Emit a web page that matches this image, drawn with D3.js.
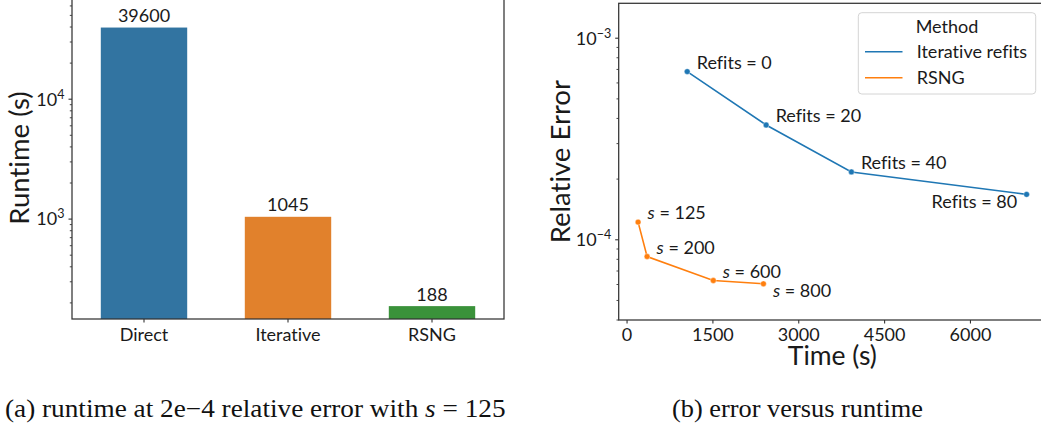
<!DOCTYPE html>
<html>
<head>
<meta charset="utf-8">
<script src="https://cdn.jsdelivr.net/npm/d3@7"></script>
<style>
  html, body { margin: 0; padding: 0; background: #fff; }
  svg { display: block; }
  text { font-family: Lato, "Open Sans", sans-serif; fill: #1a1a1a; font-variant-ligatures: none; }
  text.caption { font-family: "Liberation Serif", "Times New Roman", serif; fill: #111; }
</style>
</head>
<body>
<svg id="fig" width="1041" height="425"></svg>
<script>
// ---- (a) runtime per method ----
const methods = ["Direct", "Iterative", "RSNG"];
const runtimes = [39600, 1045, 188];
const runtimeTicks = [1e3, 1e4];

// ---- (b) error versus runtime ----
const refitCounts = [0, 20, 40, 80];
const refitTimes = [1051, 2430, 3920, 6981];
const refitErrors = [6.83e-4, 3.71e-4, 2.17e-4, 1.68e-4];

const sampleSizes = [125, 200, 600, 800];
const rsngTimes = [193, 350, 1507, 2383];
const rsngErrors = [1.224e-4, 8.26e-5, 6.28e-5, 6.05e-5];

const timeTicks = [0, 1500, 3000, 4500, 6000];
const errorTicks = [1e-4, 1e-3];
const seriesNames = ["Iterative refits", "RSNG"];

const barColors = ["#3274a1", "#e1812c", "#3a923a"];
const lineColors = ["#1f77b4", "#ff7f0e"];
const spineColor = "#333333";
const fs = 18;

const svg = d3.select("#fig");
svg.append("rect").attr("width", 1041).attr("height", 425).attr("fill", "#fff");

// minor ticks at 2..9 x 10^k inside a log domain
function minorTicks(domain) {
  const out = [];
  const k0 = Math.floor(Math.log10(domain[0])), k1 = Math.ceil(Math.log10(domain[1]));
  for (let k = k0; k <= k1; k++) {
    for (let m = 2; m <= 9; m++) {
      const v = m * Math.pow(10, k);
      if (v >= domain[0] && v <= domain[1]) out.push(v);
    }
  }
  return out;
}

function powerLabel(g, x, y, v) {
  const e = Math.round(Math.log10(v));
  const t = g.append("text").attr("x", x).attr("y", y + 6.4)
    .attr("text-anchor", "end").attr("font-size", fs);
  t.append("tspan").text("10");
  t.append("tspan").attr("dy", -7).attr("font-size", 12.5)
    .text(e < 0 ? "\u2212" + Math.abs(e) : String(e));
}

function logAxisLeft(g, y, x0) {
  const dom = y.domain();
  g.selectAll(".minor").data(minorTicks(dom)).join("line")
    .attr("x1", x0 - 2.2).attr("x2", x0)
    .attr("y1", d => y(d)).attr("y2", d => y(d))
    .attr("stroke", spineColor).attr("stroke-width", 0.9);
}

// ================= panel (a) =================
{
  const left = 72, right = 504, top = -3, bottom = 319;
  const x = d3.scaleBand().domain(methods).range([left, right])
    .paddingInner(0.4).paddingOuter(0.2);
  const y = d3.scaleLog().domain([146.8, 71200]).range([bottom, top]);
  const g = svg.append("g");

  g.selectAll("rect.bar").data(methods).join("rect").attr("class", "bar")
    .attr("x", d => x(d)).attr("width", x.bandwidth())
    .attr("y", (d, i) => y(runtimes[i]))
    .attr("height", (d, i) => bottom - y(runtimes[i]))
    .attr("fill", (d, i) => barColors[i]);

  g.selectAll("text.val").data(methods).join("text").attr("class", "val")
    .attr("x", d => x(d) + x.bandwidth() / 2)
    .attr("y", (d, i) => y(runtimes[i]) - 5.5)
    .attr("text-anchor", "middle").attr("font-size", fs)
    .text((d, i) => runtimes[i]);

  // minor + major y ticks
  logAxisLeft(g, y, left);
  runtimeTicks.forEach(v => {
    g.append("line").attr("x1", left - 3.5).attr("x2", left)
      .attr("y1", y(v)).attr("y2", y(v)).attr("stroke", spineColor).attr("stroke-width", 1.1);
    powerLabel(g, left - 7.5, y(v), v);
  });

  // x ticks
  methods.forEach(m => {
    const cx = x(m) + x.bandwidth() / 2;
    g.append("line").attr("x1", cx).attr("x2", cx).attr("y1", bottom).attr("y2", bottom + 3.5)
      .attr("stroke", spineColor).attr("stroke-width", 1.1);
    g.append("text").attr("x", cx).attr("y", 340.5).attr("text-anchor", "middle")
      .attr("font-size", fs).text(m);
  });

  // spines
  g.append("rect").attr("x", left).attr("y", top).attr("width", right - left).attr("height", bottom - top)
    .attr("fill", "none").attr("stroke", spineColor).attr("stroke-width", 1.25);

  g.append("text").attr("transform", `translate(28.5,${(top + bottom) / 2}) rotate(-90)`)
    .attr("text-anchor", "middle").attr("font-size", 27.5).text("Runtime (s)");
}

// ================= panel (b) =================
{
  const left = 618.7, right = 1046, top = 3.3, bottom = 320;
  const x = d3.scaleLinear().domain([-146, 7320]).range([left, right]);
  const y = d3.scaleLog().domain([4.0e-5, 1.49e-3]).range([bottom, top]);
  const g = svg.append("g");

  logAxisLeft(g, y, left);
  errorTicks.forEach(v => {
    g.append("line").attr("x1", left - 3.5).attr("x2", left)
      .attr("y1", y(v)).attr("y2", y(v)).attr("stroke", spineColor).attr("stroke-width", 1.1);
    powerLabel(g, left - 7.5, y(v), v);
  });
  timeTicks.forEach(v => {
    g.append("line").attr("x1", x(v)).attr("x2", x(v)).attr("y1", bottom).attr("y2", bottom + 3.5)
      .attr("stroke", spineColor).attr("stroke-width", 1.1);
    g.append("text").attr("x", x(v)).attr("y", 341).attr("text-anchor", "middle")
      .attr("font-size", fs).text(v);
  });

  const series = [
    { times: refitTimes, errors: refitErrors, color: lineColors[0],
      label: (i) => [["Refits = " + refitCounts[i], "normal"]], lastAnchor: "end" },
    { times: rsngTimes, errors: rsngErrors, color: lineColors[1],
      label: (i) => [["s", "italic"], [" = " + sampleSizes[i], "normal"]], lastAnchor: "start" }
  ];

  const line = d3.line();
  series.forEach(s => {
    const pts = s.times.map((t, i) => [x(t), y(s.errors[i])]);
    g.append("path").attr("d", line(pts)).attr("fill", "none")
      .attr("stroke", s.color).attr("stroke-width", 1.6);
    g.selectAll(null).data(pts).join("circle")
      .attr("cx", d => d[0]).attr("cy", d => d[1]).attr("r", 2.9)
      .attr("fill", s.color).attr("stroke", "#fff").attr("stroke-width", 0.4);
    pts.forEach((p, i) => {
      const last = i === pts.length - 1;
      let tx, ty, anchor = "start";
      if (!last) { tx = p[0] + 9.5; ty = p[1] - 3; }
      else if (s.lastAnchor === "end") { tx = p[0] - 9.5; ty = p[1] + 13.5; anchor = "end"; }
      else { tx = p[0] + 9.5; ty = p[1] + 13; }
      const t = g.append("text").attr("x", tx).attr("y", ty)
        .attr("text-anchor", anchor).attr("font-size", fs);
      s.label(i).forEach(([str, style]) => t.append("tspan").attr("font-style", style).text(str));
    });
  });

  // spines (right edge runs past the canvas)
  g.append("rect").attr("x", left).attr("y", top).attr("width", right - left).attr("height", bottom - top)
    .attr("fill", "none").attr("stroke", spineColor).attr("stroke-width", 1.25);

  // legend
  const lg = g.append("g");
  lg.append("rect").attr("x", 858.3).attr("y", 12.7).attr("width", 177.4).attr("height", 81.3)
    .attr("rx", 3.5).attr("fill", "#fff").attr("fill-opacity", 0.8)
    .attr("stroke", "#d4d4d4").attr("stroke-width", 1);
  lg.append("text").attr("x", 947).attr("y", 32.5).attr("text-anchor", "middle")
    .attr("font-size", fs).text("Method");
  seriesNames.forEach((name, i) => {
    const yy = 51.8 + i * 26;
    lg.append("line").attr("x1", 865).attr("x2", 902.5).attr("y1", yy).attr("y2", yy)
      .attr("stroke", lineColors[i]).attr("stroke-width", 1.6);
    lg.append("text").attr("x", 916.7).attr("y", yy + 6.4).attr("font-size", fs).text(name);
  });

  g.append("text").attr("x", (left + right) / 2).attr("y", 365).attr("text-anchor", "middle")
    .attr("font-size", 26.5).text("Time (s)");
  g.append("text").attr("transform", `translate(569.5,${(top + bottom) / 2}) rotate(-90)`)
    .attr("text-anchor", "middle").attr("font-size", 27.5).text("Relative Error");
}

// ================= captions =================
function caption(parts, x0, x1, baseline) {
  const t = svg.append("text").attr("class", "caption").attr("x", x0).attr("y", baseline)
    .attr("font-size", 25.5);
  parts.forEach(([str, style]) => t.append("tspan").attr("font-style", style).text(str));
  const w = t.node().getComputedTextLength();
  const k = (x1 - x0) / w;
  t.attr("x", 0).attr("transform", `translate(${x0},0) scale(${k},1)`);
}
caption([["(a) runtime at 2e\u22124 relative error with ", "normal"], ["s", "italic"], [" = 125", "normal"]], 5, 506, 417.5);
caption([["(b) error versus runtime", "normal"]], 672, 923, 417.5);
</script>
</body>
</html>
